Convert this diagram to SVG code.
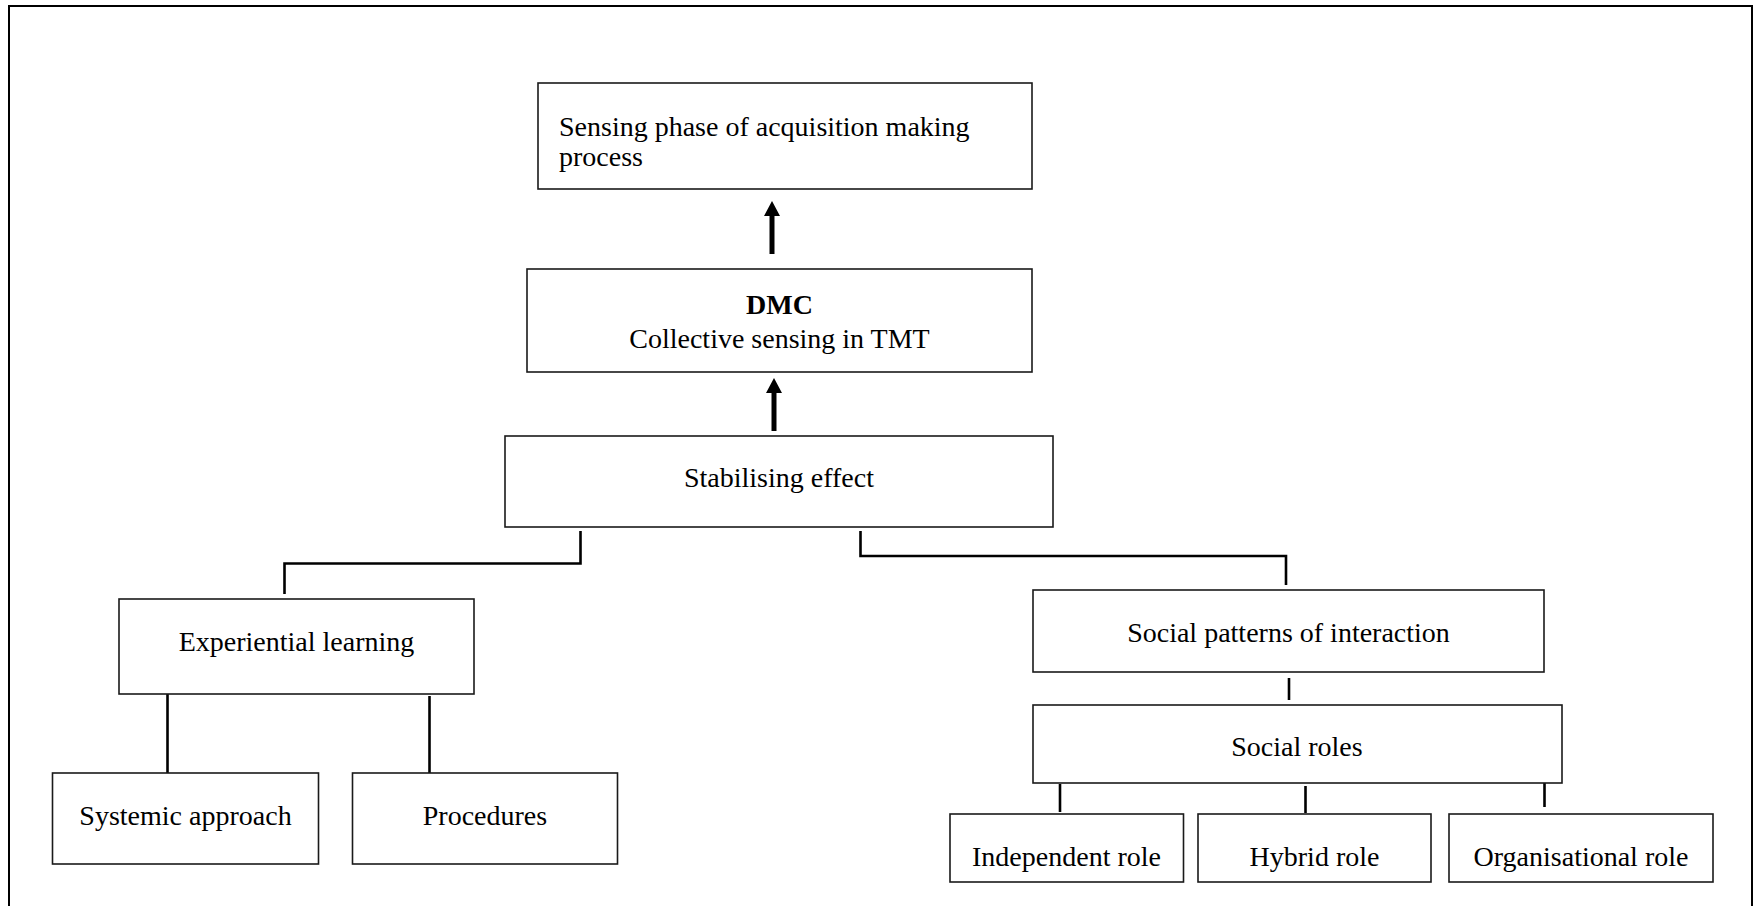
<svg xmlns="http://www.w3.org/2000/svg" width="1761" height="906" viewBox="0 0 1761 906">
  <style>
    .box { fill: #ffffff; stroke: #1a1a1a; stroke-width: 1.6; }
    .lbl { font-family: "Liberation Serif", "Times New Roman", serif; font-size: 28px; fill: #000000; }
    .mid { text-anchor: middle; }
    .bold { font-weight: bold; }
    .link { fill: none; stroke: #000000; stroke-width: 2.6; stroke-linecap: butt; }
    .shaft { stroke: #000000; stroke-width: 5; }
    .head { fill: #000000; }
  </style>

  <rect width="1761" height="906" fill="#ffffff"/>
  <!-- page frame (open at the bottom) -->
  <path d="M9,906 V6 H1752 V906" fill="none" stroke="#000000" stroke-width="2"/>

  <!-- connectors -->
  <g id="connectors">
    <!-- upward arrows -->
    <line class="shaft" x1="772" y1="254" x2="772" y2="214"/>
    <polygon class="head" points="772,201 764,216 780,216"/>
    <line class="shaft" x1="774" y1="431" x2="774" y2="391"/>
    <polygon class="head" points="774,378 766,393 782,393"/>
    <!-- stabilising effect to experiential learning -->
    <polyline class="link" points="580.5,531 580.5,563.5 284.5,563.5 284.5,594"/>
    <!-- stabilising effect to social patterns -->
    <polyline class="link" points="860.5,531 860.5,556 1286,556 1286,585"/>
    <!-- experiential learning to its two children -->
    <line class="link" x1="167.5" y1="694" x2="167.5" y2="773"/>
    <line class="link" x1="429.5" y1="696" x2="429.5" y2="774"/>
    <!-- social patterns to social roles -->
    <line class="link" x1="1289" y1="678" x2="1289" y2="700"/>
    <!-- social roles to the three roles -->
    <line class="link" x1="1060" y1="784" x2="1060" y2="812"/>
    <line class="link" x1="1305.5" y1="786" x2="1305.5" y2="813"/>
    <line class="link" x1="1544.5" y1="779" x2="1544.5" y2="807"/>
  </g>

  <g id="sensing-phase">
    <rect class="box" x="538" y="83" width="494" height="106"/>
    <text class="lbl" x="559" y="136">Sensing phase of acquisition making</text>
    <text class="lbl" x="559" y="166">process</text>
  </g>

  <g id="dmc">
    <rect class="box" x="527" y="269" width="505" height="103"/>
    <text class="lbl mid bold" x="779.5" y="314">DMC</text>
    <text class="lbl mid" x="779.5" y="348">Collective sensing in TMT</text>
  </g>

  <g id="stabilising-effect">
    <rect class="box" x="505" y="436" width="548" height="91"/>
    <text class="lbl mid" x="779" y="487">Stabilising effect</text>
  </g>

  <g id="experiential-learning">
    <rect class="box" x="119" y="599" width="355" height="95"/>
    <text class="lbl mid" x="296.5" y="651">Experiential learning</text>
  </g>

  <g id="systemic-approach">
    <rect class="box" x="52.5" y="773" width="266" height="91"/>
    <text class="lbl mid" x="185.5" y="825">Systemic approach</text>
  </g>

  <g id="procedures">
    <rect class="box" x="352.5" y="773" width="265" height="91"/>
    <text class="lbl mid" x="485" y="825">Procedures</text>
  </g>

  <g id="social-patterns">
    <rect class="box" x="1033" y="590" width="511" height="82"/>
    <text class="lbl mid" x="1288.5" y="642">Social patterns of interaction</text>
  </g>

  <g id="social-roles">
    <rect class="box" x="1033" y="705" width="529" height="78"/>
    <text class="lbl mid" x="1297" y="756">Social roles</text>
  </g>

  <g id="independent-role">
    <rect class="box" x="950" y="814" width="233.5" height="68"/>
    <text class="lbl mid" x="1066.5" y="866">Independent role</text>
  </g>

  <g id="hybrid-role">
    <rect class="box" x="1198" y="814" width="233" height="68"/>
    <text class="lbl mid" x="1314.5" y="866">Hybrid role</text>
  </g>

  <g id="organisational-role">
    <rect class="box" x="1449" y="814" width="264" height="68"/>
    <text class="lbl mid" x="1581" y="866">Organisational role</text>
  </g>
</svg>
